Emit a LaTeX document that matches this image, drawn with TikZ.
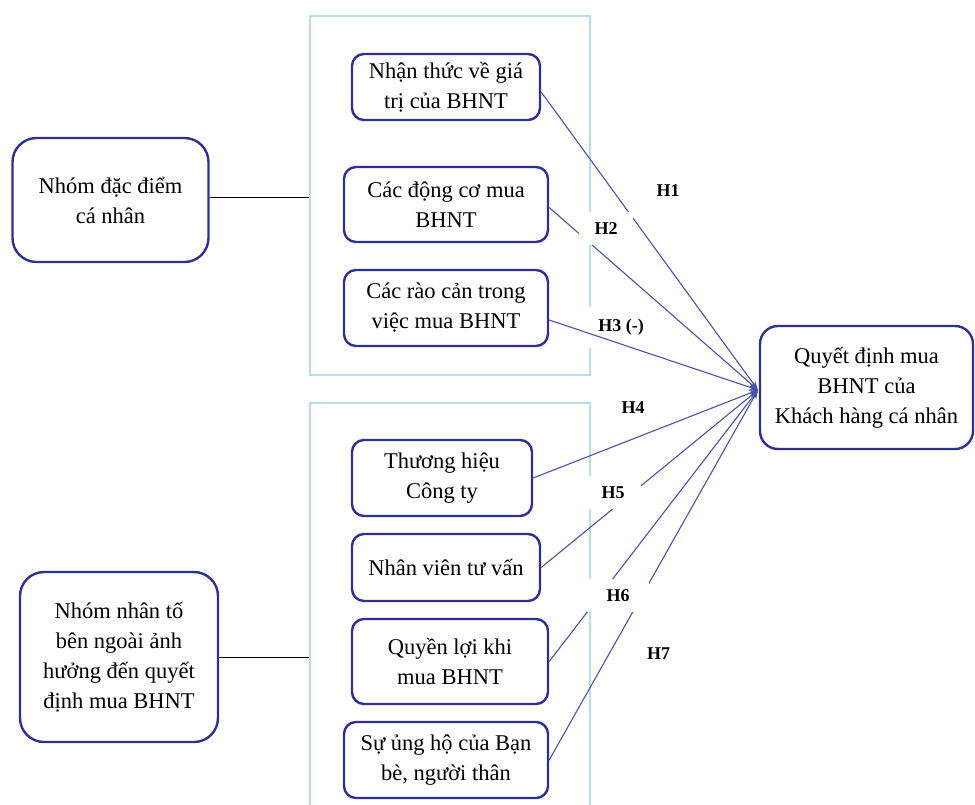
\documentclass[tikz,border=0pt]{standalone}
\usepackage{fontspec}
\setmainfont{Liberation Serif}
\usetikzlibrary{arrows.meta}
\definecolor{navy}{RGB}{46,49,146}
\definecolor{conn}{RGB}{72,82,170}
\definecolor{cont}{RGB}{183,221,232}
\begin{document}
\begin{tikzpicture}[x=1pt,y=-1pt,
  box/.style={draw=navy, line width=2.4pt, rounded corners=12pt, align=center,
    font=\fontsize{22.5}{30}\selectfont, inner sep=0pt},
  grp/.style={box, rounded corners=24pt},
  container/.style={draw=cont, line width=2.4pt, inner sep=0pt},
  lab/.style={fill=white, inner sep=0pt, font=\fontsize{18}{20}\selectfont\bfseries},
  hyp/.style={draw=conn, line width=1.1pt, -{Stealth[length=9pt,width=6pt]}},
  link/.style={draw=black, line width=0.9pt}
]
\useasboundingbox (0,0) rectangle (975,804);

% containers
\node[container, minimum width=280pt, minimum height=359pt] (c1) at (450,195.5) {};
\node[container, minimum width=280pt, minimum height=440pt] (c2) at (450,623) {};

% left group boxes
\node[grp, minimum width=196pt, minimum height=124pt] (l1) at (110.5,200) {Nhóm đặc điểm\\cá nhân};
\node[grp, minimum width=198pt, minimum height=170pt] (l2) at (119,657) {Nhóm nhân tố\\bên ngoài ảnh\\hưởng đến quyết\\định mua BHNT};

% factor boxes
\node[box, minimum width=188pt, minimum height=66pt] (b1) at (446,87) {Nhận thức về giá\\trị của BHNT};
\node[box, minimum width=204pt, minimum height=75pt] (b2) at (446,204.5) {Các động cơ mua\\BHNT};
\node[box, minimum width=204pt, minimum height=76pt] (b3) at (446,308) {Các rào cản trong\\việc mua BHNT};
\node[box, minimum width=180pt, minimum height=76pt] (b4) at (442,478) {Thương hiệu\\Công ty};
\node[box, minimum width=188pt, minimum height=67pt] (b5) at (446,567.5) {Nhân viên tư vấn};
\node[box, minimum width=196pt, minimum height=85pt] (b6) at (450,661.5) {Quyền lợi khi\\mua BHNT};
\node[box, minimum width=204pt, minimum height=76pt] (b7) at (446,760) {Sự ủng hộ của Bạn\\bè, người thân};

% target
\node[box, rounded corners=18pt, minimum width=213pt, minimum height=123pt] (t) at (866.5,387.5) {Quyết định mua\\BHNT của\\Khách hàng cá nhân};
\coordinate (tin) at (758,390);

% links from groups to containers
\draw[link] ([yshift=3pt]l1.east) -- ([yshift=3pt]l1.east -| c1.west);
\draw[link] (l2.east) -- (l2.east -| c2.west);

% hypothesis connectors
\draw[hyp] ([yshift=-5pt]b1.east) -- (tin);
\draw[hyp] ([yshift=-3pt]b2.east) -- (tin);
\draw[hyp] (b4.east) -- (tin);
\draw[hyp] (b5.east) -- (tin);
\draw[hyp] (b6.east) -- (tin);
\draw[hyp] (b7.east) -- (tin);

% labels
\node[lab, minimum width=30pt, minimum height=24pt] (h1) at (668,191) {H1};
\node[lab, minimum width=54pt, minimum height=33pt] (h2) at (606,228.5) {H2};
\node[lab, minimum width=67pt, minimum height=41pt] (h3) at (621,327.5) {H3 (-)};
\node[lab, minimum width=30pt, minimum height=24pt] (h4) at (633,408) {H4};
\node[lab, minimum width=55pt, minimum height=33pt] (h5) at (613,492.5) {H5};
\node[lab, minimum width=62pt, minimum height=33pt] (h6) at (618,595.5) {H6};
\node[lab, minimum width=30pt, minimum height=24pt] (h7) at (658.5,653.5) {H7};

\draw[hyp] ([yshift=-12pt]b3.east) -- (tin);
\end{tikzpicture}
\end{document}
